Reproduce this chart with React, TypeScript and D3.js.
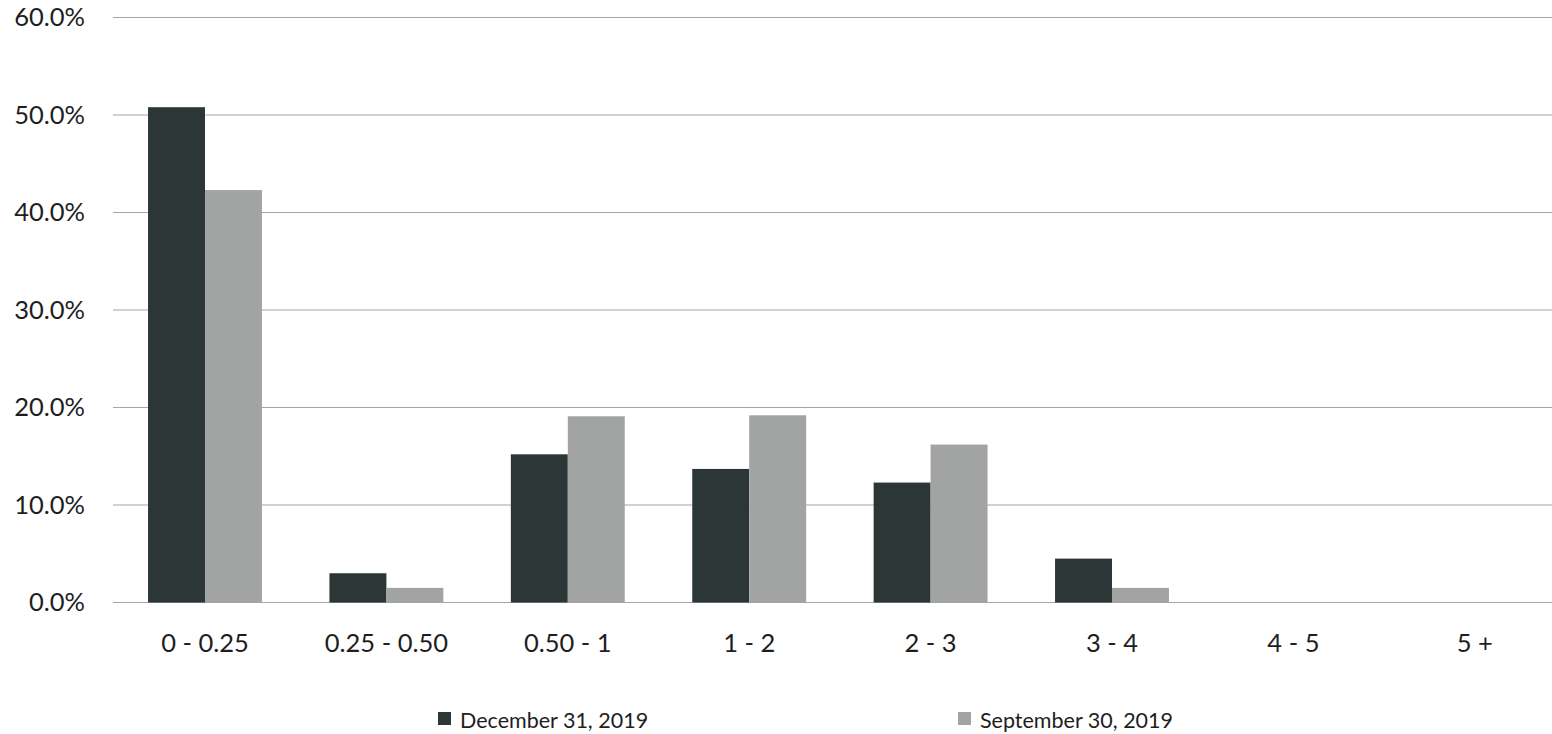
import React from "react";
import * as d3 from "d3";

// Maturity buckets (years) and share of portfolio per reporting date
const categories = ["0 - 0.25", "0.25 - 0.50", "0.50 - 1", "1 - 2", "2 - 3", "3 - 4", "4 - 5", "5 +"];
const seriesNames = ["December 31, 2019", "September 30, 2019"];
const dec2019 = [50.8, 3.0, 15.2, 13.7, 12.3, 4.5, 0, 0];
const sep2019 = [42.3, 1.5, 19.1, 19.2, 16.2, 1.5, 0, 0];
const yTicks = [0, 10, 20, 30, 40, 50, 60];
const colors = ["#2c3636", "#a2a4a4"];

const W = 1552;
const H = 734;
const FONT = "Lato, 'Open Sans', sans-serif";

export default function App() {
  const x = d3
    .scaleBand<string>()
    .domain(categories)
    .range([114.3, 1565.5])
    .paddingInner(0.372)
    .paddingOuter(0.186);
  const xs = d3.scaleBand<string>().domain(seriesNames).range([0, x.bandwidth()]);
  const y = d3.scaleLinear().domain([0, 60]).range([602.5, 17.5]);
  const series = [dec2019, sep2019];

  return (
    <svg
      width={W}
      height={H}
      style={{ position: "absolute", left: 0, top: 0, background: "#fff" }}
      fontFamily={FONT}
    >
      {yTicks.map((t) => (
        <g key={t}>
          <line x1={113} x2={W} y1={y(t)} y2={y(t)} stroke="#a5a5a5" strokeWidth={1.2} />
          <text x={85} y={y(t)} dy="0.35em" textAnchor="end" fontSize={25.5} fill="#1e1e1e">
            {t.toFixed(1)}%
          </text>
        </g>
      ))}
      {categories.map((c, i) => (
        <g key={c}>
          {series.map((vals, s) => (
            <rect
              key={s}
              x={(x(c) as number) + (xs(seriesNames[s]) as number)}
              y={y(vals[i])}
              width={xs.bandwidth()}
              height={y(0) - y(vals[i])}
              fill={colors[s]}
            />
          ))}
          <text
            x={(x(c) as number) + x.bandwidth() / 2}
            y={652}
            textAnchor="middle"
            fontSize={25.5}
            fill="#1e1e1e"
          >
            {c}
          </text>
        </g>
      ))}
      {seriesNames.map((n, s) => {
        const lx = s === 0 ? 438 : 958;
        return (
          <g key={n}>
            <rect x={lx} y={712} width={13} height={13} fill={colors[s]} />
            <text x={lx + 22} y={728} fontSize={21.5} fill="#1e1e1e">
              {n}
            </text>
          </g>
        );
      })}
    </svg>
  );
}
